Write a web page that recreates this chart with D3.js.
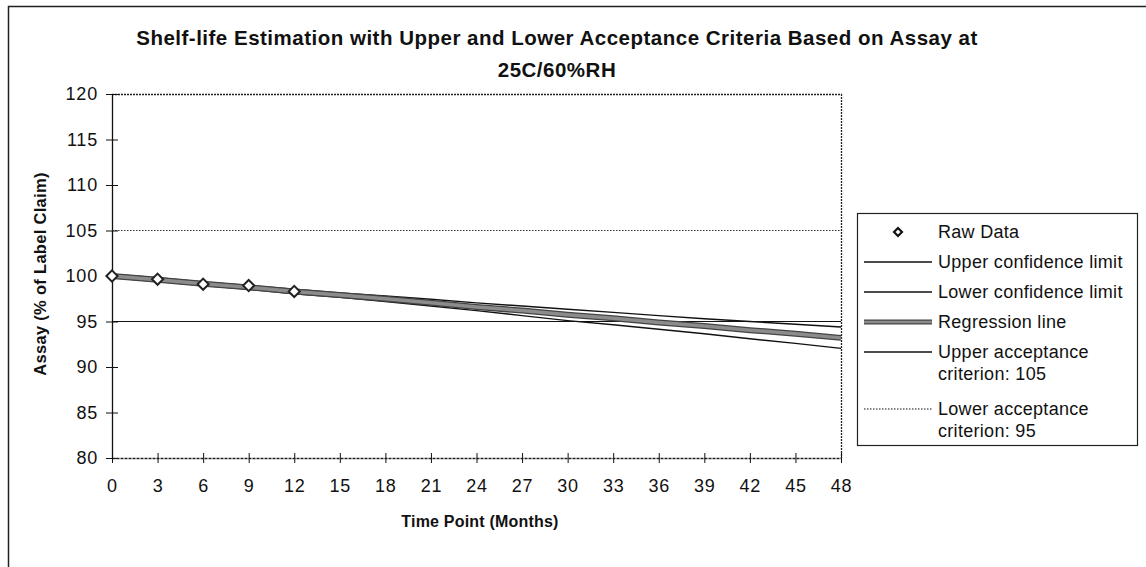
<!DOCTYPE html>
<html>
<head>
<meta charset="utf-8">
<script src="https://cdn.jsdelivr.net/npm/d3@7"></script>
<style>
  body { margin: 0; background: #fff; }
  svg { font-family: "Liberation Sans", Arial, sans-serif; }
</style>
</head>
<body>
<div id="chart"></div>
<script>
// time points (months)
const months = [0, 3, 6, 9, 12, 15, 18, 21, 24, 27, 30, 33, 36, 39, 42, 45, 48];
const rawMonths = [0, 3, 6, 9, 12];
const rawAssay = [100.0, 99.65, 99.1, 98.95, 98.3];
const regression = [100.0, 99.6, 99.15, 98.75, 98.3, 97.9, 97.5, 97.05, 96.6, 96.2, 95.75, 95.35, 94.9, 94.5, 94.05, 93.65, 93.2];
const upperCL = [100.2, 99.8, 99.35, 98.95, 98.55, 98.15, 97.8, 97.45, 97.05, 96.7, 96.35, 96.0, 95.65, 95.3, 95.0, 94.7, 94.4];
const lowerCL = [99.8, 99.4, 98.95, 98.55, 98.05, 97.65, 97.2, 96.7, 96.2, 95.65, 95.1, 94.65, 94.15, 93.65, 93.1, 92.6, 92.05];
const upperAccept = 105;
const lowerAccept = 95;
const yTicks = [80, 85, 90, 95, 100, 105, 110, 115, 120];
const xTicks = months;
const legendLabels = [
  ["Raw Data"],
  ["Upper confidence limit"],
  ["Lower confidence limit"],
  ["Regression line"],
  ["Upper acceptance", "criterion: 105"],
  ["Lower acceptance", "criterion: 95"]
];

const W = 1146, H = 567;
const plot = { left: 112, right: 841, top: 94, bottom: 458 };
const FONT = "'Liberation Sans', Arial, sans-serif";

const svg = d3.select("#chart").append("svg")
  .attr("width", W).attr("height", H);

// outer frame (left + top edges only visible)
svg.append("path")
  .attr("d", `M8.5,${H} L8.5,6.5 L${W},6.5`)
  .attr("fill", "none").attr("stroke", "#222").attr("stroke-width", 1.5);

const x = d3.scaleLinear().domain([0, 48]).range([plot.left, plot.right]);
const y = d3.scaleLinear().domain([80, 120]).range([plot.bottom, plot.top]);

// title
const title = svg.append("text")
  .attr("text-anchor", "middle")
  .attr("font-weight", "bold").attr("font-size", 20.5).attr("fill", "#111")
  .attr("letter-spacing", 0.5);
title.append("tspan").attr("x", 557).attr("y", 45)
  .text("Shelf-life Estimation with Upper and Lower Acceptance Criteria Based on Assay at");
title.append("tspan").attr("x", 557).attr("y", 77).text("25C/60%RH");

// plot frame: top & right dotted
svg.append("path")
  .attr("d", `M${plot.left},${plot.top + 0.5} L${plot.right + 0.5},${plot.top + 0.5} L${plot.right + 0.5},${plot.bottom}`)
  .attr("fill", "none").attr("stroke", "#222").attr("stroke-width", 1.3)
  .attr("stroke-dasharray", "2,1");

// acceptance criteria
svg.append("line")
  .attr("x1", plot.left).attr("x2", plot.right)
  .attr("y1", y(upperAccept)).attr("y2", y(upperAccept))
  .attr("stroke", "#333").attr("stroke-width", 1.2).attr("stroke-dasharray", "1.5,1.5");
svg.append("line")
  .attr("x1", plot.left).attr("x2", plot.right)
  .attr("y1", y(lowerAccept)).attr("y2", y(lowerAccept))
  .attr("stroke", "#111").attr("stroke-width", 1.2);

// axes
const yAxis = d3.axisLeft(y).tickValues(yTicks).tickSizeInner(-6).tickSizeOuter(0).tickPadding(14);
const gy = svg.append("g").attr("transform", `translate(${plot.left},0)`).call(yAxis);
gy.selectAll(".tick line").attr("x1", -6).attr("x2", 6).attr("stroke", "#111");
gy.select(".domain").attr("stroke", "#111").attr("stroke-width", 1.3);
gy.selectAll("text").attr("font-size", 18).attr("fill", "#111")
  .attr("letter-spacing", 0.8).attr("font-family", FONT);

const xAxis = d3.axisBottom(x).tickValues(xTicks).tickSizeInner(6).tickSizeOuter(0).tickPadding(15);
const gx = svg.append("g").attr("transform", `translate(0,${plot.bottom})`).call(xAxis);
gx.selectAll(".tick line").attr("y1", -5).attr("y2", 5).attr("stroke", "#111");
gx.select(".domain").attr("stroke", "#222").attr("stroke-width", 1.3).attr("stroke-dasharray", "3,1");
gx.selectAll("text").attr("font-size", 18).attr("fill", "#111")
  .attr("letter-spacing", 0.8).attr("font-family", FONT);

// axis titles
svg.append("text")
  .attr("transform", `translate(46,${(plot.top + plot.bottom) / 2 - 2}) rotate(-90)`)
  .attr("text-anchor", "middle").attr("font-weight", "bold").attr("font-size", 16.5).attr("fill", "#111")
  .attr("letter-spacing", 0.3)
  .text("Assay (% of Label Claim)");
svg.append("text")
  .attr("x", 480).attr("y", 527)
  .attr("text-anchor", "middle").attr("font-weight", "bold").attr("font-size", 16).attr("fill", "#111")
  .attr("letter-spacing", 0.2)
  .text("Time Point (Months)");

// lines
const line = d3.line().x((d) => x(d[0])).y((d) => y(d[1]));
const toPts = (vals) => months.map((m, i) => [m, vals[i]]);

svg.append("path").datum(toPts(upperCL))
  .attr("d", line).attr("fill", "none").attr("stroke", "#111").attr("stroke-width", 1.4);
svg.append("path").datum(toPts(lowerCL))
  .attr("d", line).attr("fill", "none").attr("stroke", "#111").attr("stroke-width", 1.4);
svg.append("path").datum(toPts(regression))
  .attr("d", line).attr("fill", "none").attr("stroke", "#444").attr("stroke-width", 6);
svg.append("path").datum(toPts(regression))
  .attr("d", line).attr("fill", "none").attr("stroke", "#8c8c8c").attr("stroke-width", 3.5);

// raw data diamonds
const diamond = d3.symbol().type(d3.symbolDiamond2).size(80);
svg.selectAll(".raw").data(rawMonths.map((m, i) => [m, rawAssay[i]]))
  .enter().append("path")
  .attr("class", "raw")
  .attr("transform", (d) => `translate(${x(d[0])},${y(d[1])})`)
  .attr("d", diamond)
  .attr("fill", "#fff").attr("stroke", "#222").attr("stroke-width", 2);

// legend
const lg = svg.append("g");
lg.append("rect")
  .attr("x", 857.5).attr("y", 213.5).attr("width", 280).attr("height", 232)
  .attr("fill", "#fff").attr("stroke", "#222").attr("stroke-width", 1.2);

const rowY = [232, 262, 292, 322, 352, 409];
const sx1 = 864, sx2 = 932, tx = 938;
legendLabels.forEach((lab, i) => {
  const yy = rowY[i];
  if (i === 0) {
    lg.append("path").attr("transform", `translate(${(sx1 + sx2) / 2},${yy})`)
      .attr("d", d3.symbol().type(d3.symbolDiamond2).size(40))
      .attr("fill", "#fff").attr("stroke", "#111").attr("stroke-width", 2.2);
  } else if (i === 3) {
    lg.append("line").attr("x1", sx1).attr("x2", sx2).attr("y1", yy).attr("y2", yy)
      .attr("stroke", "#444").attr("stroke-width", 5);
    lg.append("line").attr("x1", sx1).attr("x2", sx2).attr("y1", yy).attr("y2", yy)
      .attr("stroke", "#8c8c8c").attr("stroke-width", 2.5);
  } else {
    lg.append("line").attr("x1", sx1).attr("x2", sx2).attr("y1", yy).attr("y2", yy)
      .attr("stroke", "#111").attr("stroke-width", i === 5 ? 1 : 1.3)
      .attr("stroke-dasharray", i === 5 ? "1.5,1.5" : null);
  }
  const t = lg.append("text").attr("font-size", 18).attr("fill", "#111")
    .attr("letter-spacing", 0.3);
  lab.forEach((s, j) => {
    t.append("tspan").attr("x", tx).attr("y", yy + 6 + j * 22).text(s);
  });
});
</script>
</body>
</html>
